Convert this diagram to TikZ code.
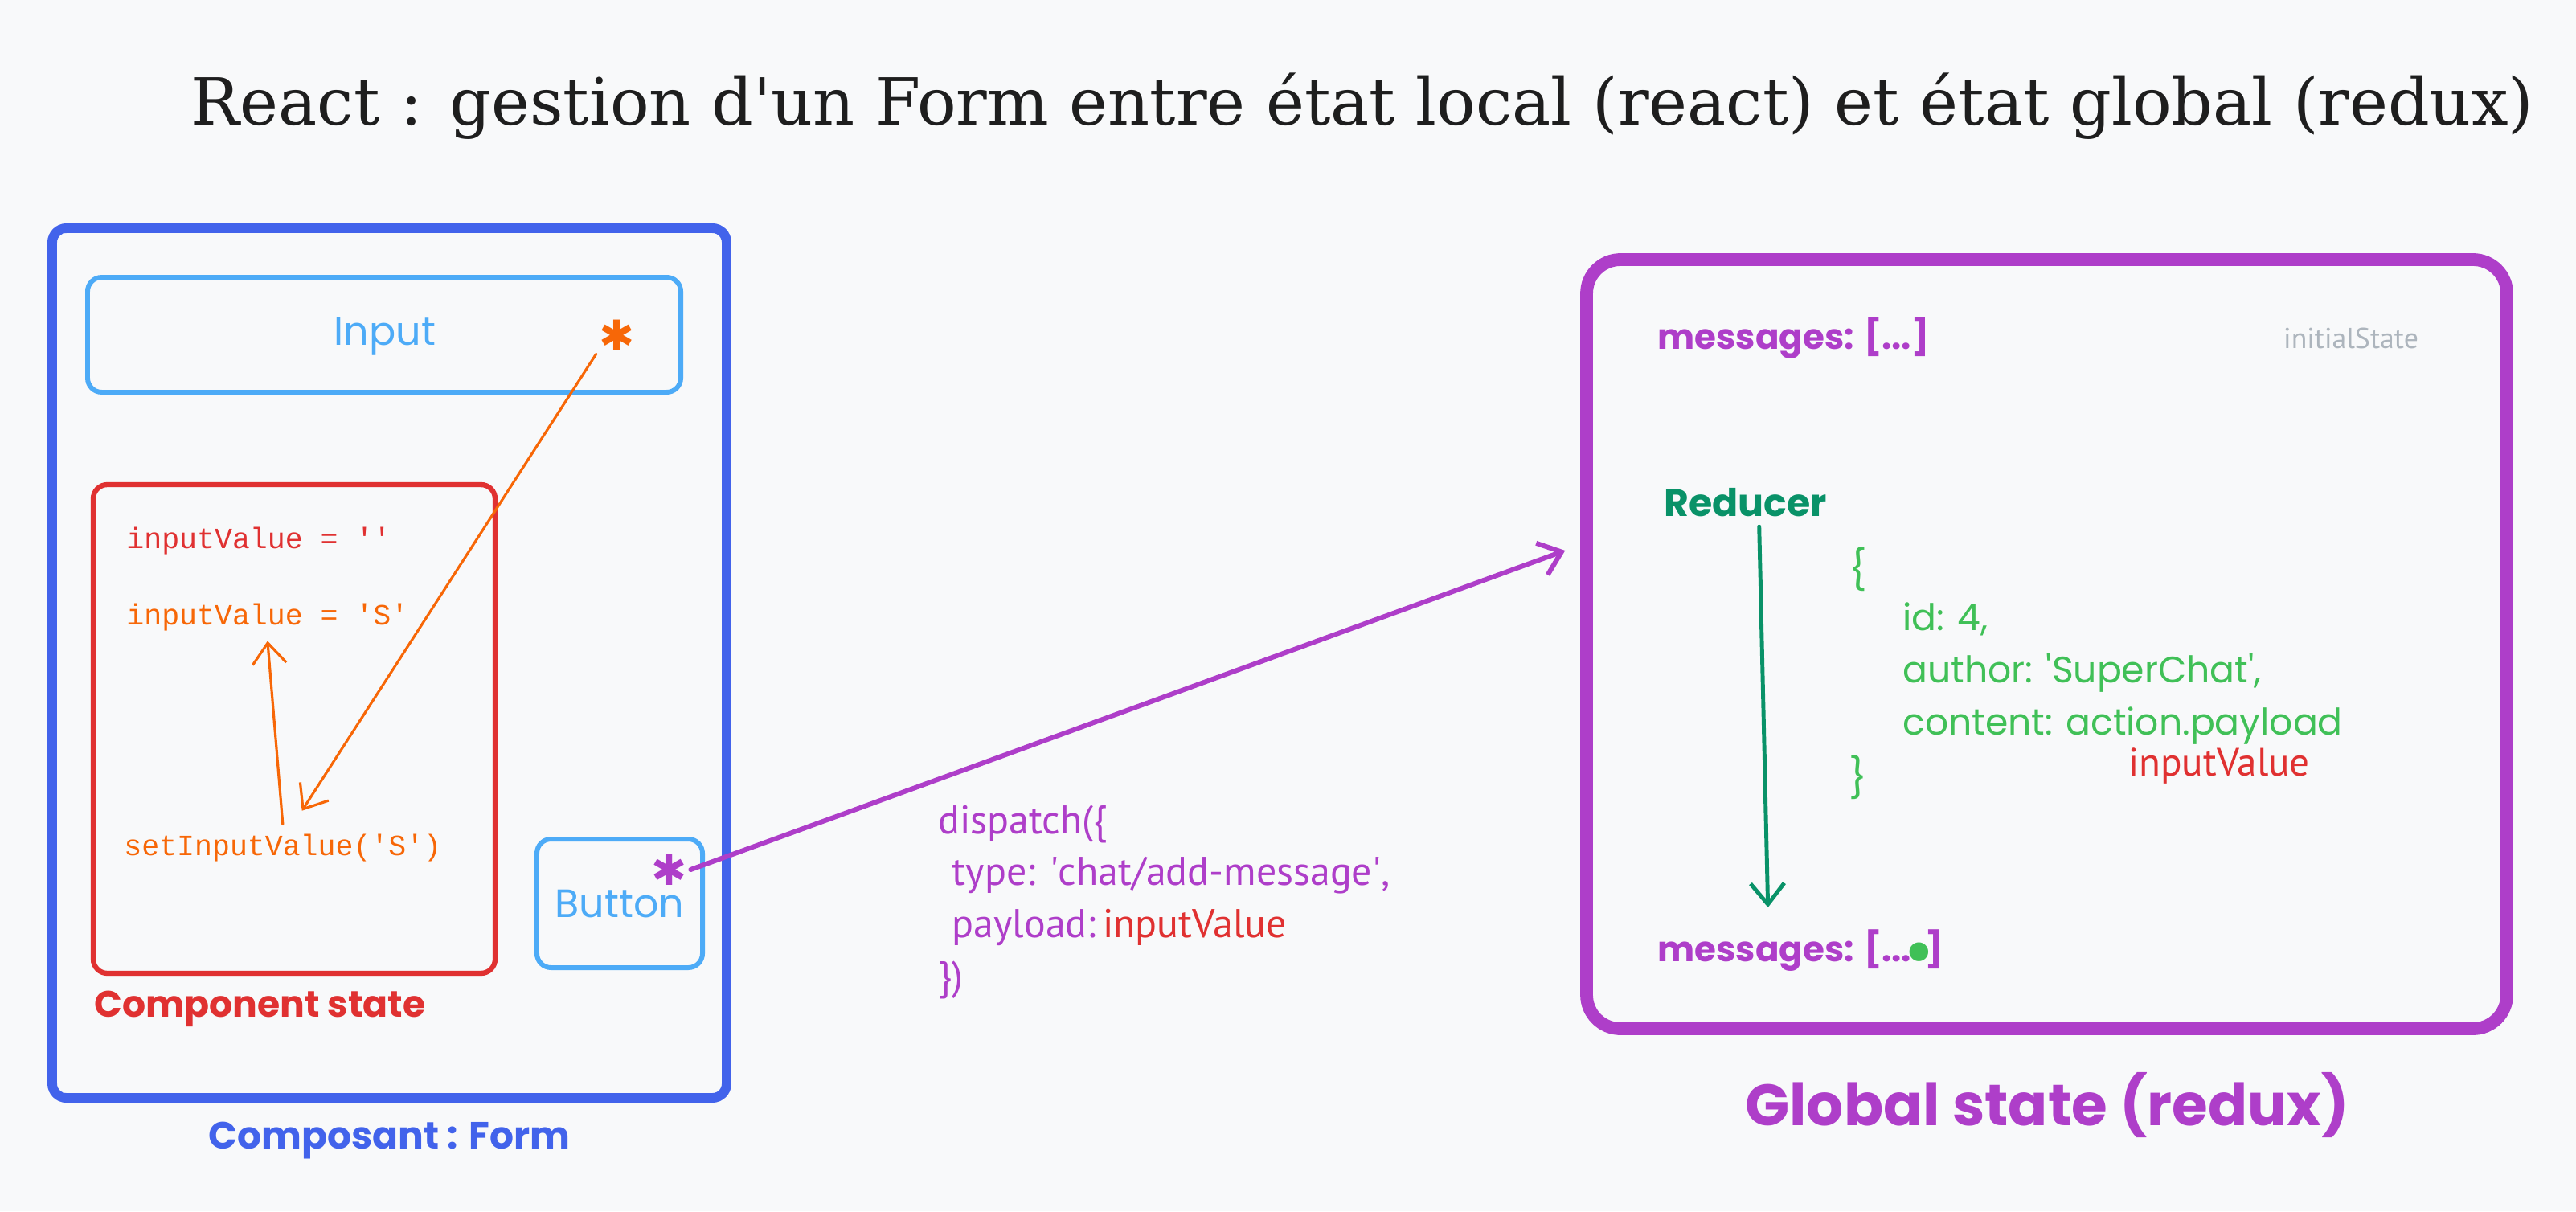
\documentclass[tikz,border=0pt]{standalone}
\usepackage{fontspec}
\usepackage{xcolor}
\usetikzlibrary{arrows.meta}
\usetikzlibrary{positioning}

\newfontfamily\titlefont{DejaVu Serif}
\newfontfamily\handfont{Poppins}
\newfontfamily\codefont{Liberation Mono}
\newfontfamily\plexfont{PT Sans}
\newfontfamily\symfont{DejaVu Sans}
\newcommand{\sq}{\textquotesingle}

\definecolor{paper}{HTML}{F8F9FA}
\definecolor{formblue}{HTML}{4263EB}
\definecolor{skyblue}{HTML}{4DABF7}
\definecolor{statered}{HTML}{E03131}
\definecolor{setorange}{HTML}{F76707}
\definecolor{reduxpurple}{HTML}{AE3EC9}
\definecolor{reducergreen}{HTML}{099268}
\definecolor{fieldgreen}{HTML}{40C057}
\definecolor{hintgray}{HTML}{ADB5BD}
\definecolor{ink}{HTML}{1E1E1E}

\begin{document}
\begin{tikzpicture}[
  hand/.style={font=\handfont\fontsize{14}{17}\selectfont},
  code/.style={font=\codefont\fontsize{10.4}{12}\selectfont, anchor=west},
  plex/.style={font=\plexfont\fontsize{14.2}{18.4}\selectfont, align=left},
  frame/.style={draw, rounded corners=5pt, inner sep=0pt},
  arrow/.style={-{Straight Barb[length=2.6mm, width=4.2mm]}, line cap=round},
  spark/.style={font=\symfont\fontsize{15}{15}\selectfont, inner sep=1pt}
]

% --- Canvas ------------------------------------------------------------------
\fill[paper] (0,0) rectangle (32.05,-15.07);

\node[anchor=base, text=ink, font=\titlefont\fontsize{23}{28}\selectfont] (title) at (16.95,-1.55)
{React : gestion d'un Form entre état local (react) et état global (redux)};

% --- Component Form (local state) -------------------------------------------
\node[frame, draw=formblue, line width=3.4pt, minimum width=8.39cm, minimum height=10.82cm] (form) at (4.845,-8.25) {};
\node[hand, text=formblue, below=0.12cm of form, font=\handfont\fontsize{13.4}{16}\selectfont\bfseries] (formlabel) {Composant : Form};

\node[frame, draw=skyblue, line width=1.7pt, minimum width=7.38cm, minimum height=1.43cm] (inbox) at (4.78,-4.165) {};
\node[hand, text=skyblue] (input) at (4.79,-4.19) {Input};
\node[spark, text=setorange] (istar) at (7.68,-4.17) {✱};

\node[frame, draw=statered, line width=1.8pt, minimum width=5.0cm, minimum height=6.08cm] (state) at (3.66,-9.07) {};
\node[code, text=statered] (val0) at (1.45,-6.73) {inputValue = \sq\sq};
\node[code, text=setorange] (valS) at (1.45,-7.68) {inputValue = \sq S\sq};
\node[code, text=setorange] (setter) at (1.42,-10.55) {setInputValue(\sq S\sq)};
\node[hand, text=statered, anchor=west, font=\handfont\fontsize{13}{16}\selectfont\bfseries] (statelabel) at (1.05,-12.55) {Component state};

\node[frame, draw=skyblue, line width=1.7pt, minimum width=2.06cm, minimum height=1.6cm] (btn) at (7.71,-11.24) {};
\node[hand, text=skyblue] (button) at (7.71,-11.25) {Button};
\node[spark, text=reduxpurple] (bstar) at (8.33,-10.82) {✱};

% --- Dispatch payload ------------------------------------------------------
\node[plex, text=reduxpurple, anchor=west] (dispatch) at (11.55,-11.22)
{dispatch(\{\\
\hspace*{0.35em}type: \sq chat/add-message\sq,\\
\hspace*{0.35em}payload:\,{\color{statered}inputValue}\\
\})};

% --- Global state (redux) ---------------------------------------------------
\node[frame, draw=reduxpurple, line width=4.5pt, rounded corners=12pt, minimum width=11.45cm, minimum height=9.57cm] (glob) at (25.465,-8.015) {};
\node[hand, text=reduxpurple, font=\handfont\fontsize{20.6}{25}\selectfont\bfseries] (globlabel) at (25.47,-13.75) {Global state (redux)};

\node[hand, text=reduxpurple, anchor=west, font=\handfont\fontsize{12.4}{16}\selectfont\bfseries] (msg0) at (20.5,-4.21) {messages: [...]};
\node[plex, text=hintgray, font=\plexfont\fontsize{10.2}{12}\selectfont] (initial) at (29.25,-4.21) {initialState};

\node[hand, text=reducergreen, anchor=west, font=\handfont\fontsize{13.5}{16}\selectfont\bfseries] (reducer) at (20.58,-6.25) {Reducer};

\node[hand, text=fieldgreen] (lbrace) at (23.12,-7.08) {\{};
\node[hand, text=fieldgreen, anchor=west, align=left, font=\handfont\fontsize{13}{18.5}\selectfont] (fields) at (23.55,-8.38)
{id: 4,\\
author: \sq SuperChat\sq,\\
content: action.payload};
\node[hand, text=fieldgreen] (rbrace) at (23.12,-9.67) {\}};
\node[plex, text=statered, font=\plexfont\fontsize{14}{16}\selectfont] (payval) at (27.61,-9.53) {inputValue};

\node[hand, text=reduxpurple, anchor=west, font=\handfont\fontsize{12.4}{16}\selectfont\bfseries] (msg1) at (20.5,-11.83)
{messages: [...{\color{fieldgreen}\symfont\fontsize{19}{19}\selectfont\kern-0.18em\raisebox{-0.2em}{\textbullet}\kern-0.2em}]};

% --- Connectors ----------------------------------------------------------------
\draw[arrow, setorange, line width=0.9pt, shorten >=2mm] (istar.south west) -- ([xshift=1.3mm]setter.north);
\draw[arrow, setorange, line width=0.9pt] (setter.north) -- (valS.south);

\draw[arrow, reduxpurple, line width=1.7pt, shorten >=2mm] (bstar.east) -- (glob.168);

\draw[arrow, reducergreen, line width=1.4pt, shorten >=1.5mm] ([xshift=1.7mm]reducer.south) -- ([xshift=1.5cm]msg1.north west);

\end{tikzpicture}
\end{document}
